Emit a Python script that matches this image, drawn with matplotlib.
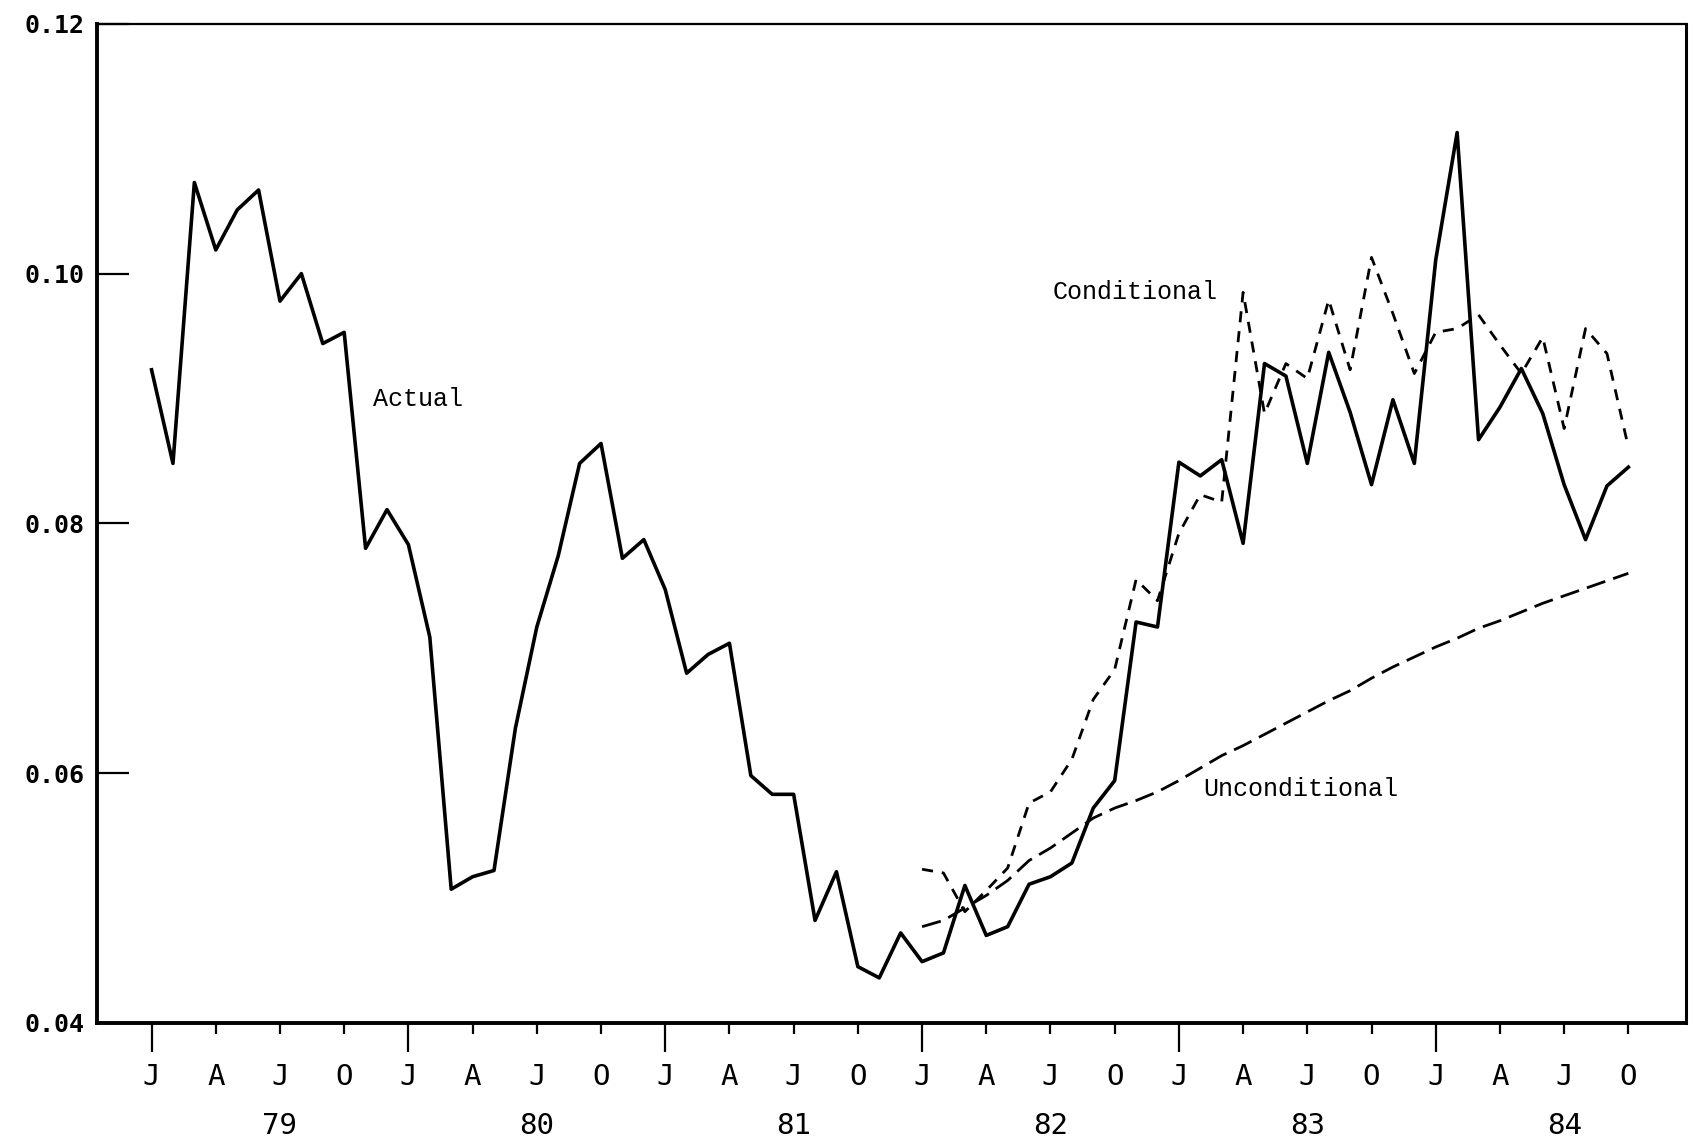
import numpy as np
import matplotlib
matplotlib.use('Agg')
import matplotlib.pyplot as plt

# monthly index: 0 = Jan 1979 ... 69 = Oct 1984
months = np.arange(70)
forecast_months = np.arange(36, 70)  # forecasts start Jan 1982

actual = np.array([
    0.0923, 0.0848, 0.1073, 0.1019, 0.1051, 0.1067, 0.0978, 0.1000, 0.0944, 0.0953,
    0.0780, 0.0811, 0.0783, 0.0709, 0.0507, 0.0517, 0.0522, 0.0636, 0.0717, 0.0774,
    0.0848, 0.0864, 0.0772, 0.0787, 0.0747, 0.0680, 0.0695, 0.0704, 0.0598, 0.0583,
    0.0583, 0.0482, 0.0521, 0.0445, 0.0436, 0.0472, 0.0449, 0.0456, 0.0510, 0.0470,
    0.0477, 0.0511, 0.0517, 0.0528, 0.0572, 0.0594, 0.0721, 0.0717, 0.0849, 0.0838,
    0.0851, 0.0784, 0.0928, 0.0918, 0.0848, 0.0937, 0.0889, 0.0831, 0.0899, 0.0848,
    0.1011, 0.1113, 0.0867, 0.0893, 0.0924, 0.0888, 0.0831, 0.0787, 0.0830, 0.0845,
])

conditional = np.array([
    0.0523, 0.0520, 0.0489, 0.0506, 0.0524, 0.0576, 0.0585, 0.0611, 0.0659, 0.0683,
    0.0755, 0.0738, 0.0792, 0.0823, 0.0817, 0.0985, 0.0888, 0.0928, 0.0916, 0.0979,
    0.0923, 0.1013, 0.0968, 0.0920, 0.0953, 0.0956, 0.0967, 0.0943, 0.0920, 0.0949,
    0.0876, 0.0956, 0.0936, 0.0861,
])

unconditional = np.array([
    0.0477, 0.0482, 0.0492, 0.0502, 0.0514, 0.0530, 0.0540, 0.0552, 0.0564, 0.0572,
    0.0578, 0.0585, 0.0594, 0.0604, 0.0614, 0.0622, 0.0631, 0.0640, 0.0649, 0.0658,
    0.0666, 0.0676, 0.0685, 0.0693, 0.0701, 0.0708, 0.0716, 0.0722, 0.0729, 0.0736,
    0.0742, 0.0748, 0.0754, 0.0760,
])

y_ticks = [0.04, 0.06, 0.08, 0.10, 0.12]
y_labels = ['0.04', '0.06', '0.08', '0.10', '0.12']
quarter_letters = ['J', 'A', 'J', 'O']
years = ['79', '80', '81', '82', '83', '84']

mono = 'DejaVu Sans Mono'
label_font = 'Liberation Mono'

fig = plt.figure(figsize=(16.97, 11.39), dpi=100)
ax = fig.add_axes([0.0574, 0.102, 0.9362, 0.877])

ax.plot(months, actual, color='black', lw=2.6)
ax.plot(forecast_months, conditional, color='black', lw=2.0, dashes=(4, 3.2))
ax.plot(forecast_months, unconditional, color='black', lw=2.0, dashes=(7, 3))

ax.set_xlim(-2.53, 71.7)
ax.set_ylim(0.04, 0.12)

# y axis: inward ticks, labels on the left
ax.set_yticks(y_ticks)
ax.set_yticklabels(y_labels, fontsize=18, family=mono, fontweight='bold')
ax.tick_params(axis='y', direction='in', length=23, width=1.6, pad=9.5)

# x axis: long ticks at January, short ticks at the other quarters
jan = np.arange(0, 70, 12)
other_q = [q for q in range(0, 70, 3) if q % 12 != 0]
ax.set_xticks(jan)
ax.set_xticklabels(['J'] * len(jan), fontsize=21, family=mono)
ax.set_xticks(other_q, minor=True)
ax.set_xticklabels([quarter_letters[(q % 12) // 3] for q in other_q],
                   minor=True, fontsize=21, family=mono)
ax.tick_params(axis='x', which='major', direction='out', length=21, width=1.6, pad=8)
ax.tick_params(axis='x', which='minor', direction='out', length=8, width=1.6, pad=21)

# year labels centred under July
for i, yr in enumerate(years):
    ax.text(6 + 12 * i, -0.103, yr, transform=ax.get_xaxis_transform(),
            ha='center', va='center', fontsize=21, family=mono)

ax.spines['left'].set_linewidth(2.8)
ax.spines['bottom'].set_linewidth(2.8)
ax.spines['top'].set_linewidth(1.6)
ax.spines['right'].set_linewidth(2.2)

ax.text(10.35, 0.0900, 'Actual', ha='left', va='center', fontsize=18, family=label_font)
ax.text(42.08, 0.0985, 'Conditional', ha='left', va='center', fontsize=18, family=label_font)
ax.text(49.16, 0.0587, 'Unconditional', ha='left', va='center', fontsize=18, family=label_font)

fig.savefig('out.png', dpi=100)
plt.close(fig)
